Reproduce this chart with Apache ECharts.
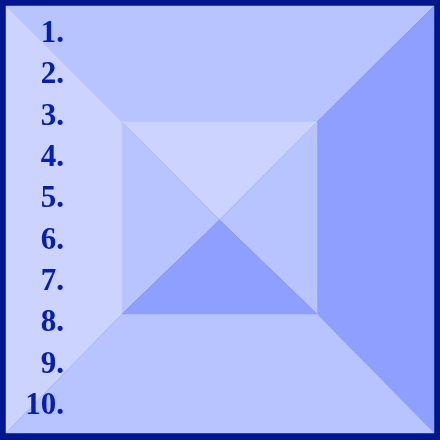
<!DOCTYPE html>
<html><head><meta charset="utf-8">
<script src="https://cdn.jsdelivr.net/npm/echarts@6/dist/echarts.min.js"></script>
<style>html,body{margin:0;padding:0;background:#00168f}#c{width:440px;height:440px}</style>
</head><body><div id="c"></div>
<script>
// 外框与内框（坐标单位＝像素）
const outerBox = [6, 6, 434, 433];
const innerBox = [122, 122, 317, 314];
const faceColors = {
  outerTop: '#b8c4ff', outerLeft: '#ccd3ff', outerRight: '#8f9fff', outerBottom: '#b8c4ff',
  innerTop: '#ccd3ff', innerLeft: '#b8c4ff', innerRight: '#b8c4ff', innerBottom: '#8f9fff',
};
const labels = ['1.', '2.', '3.', '4.', '5.', '6.', '7.', '8.', '9.', '10.'];
const labelY = [34, 75, 117, 158, 199, 241, 282, 323, 365, 406];

function faces() {
  const [x0, y0, x1, y1] = outerBox;
  const [a0, b0, a1, b1] = innerBox;
  const cx = (a0 + a1) / 2, cy = (b0 + b1) / 2 + 2;
  return [
    ['outerTop', [[x0, y0], [x1, y0], [a1, b0], [a0, b0]]],
    ['outerLeft', [[x0, y0], [a0, b0], [a0, b1], [x0, y1]]],
    ['outerRight', [[x1, y0], [x1, y1], [a1, b1], [a1, b0]]],
    ['outerBottom', [[x0, y1], [a0, b1], [a1, b1], [x1, y1]]],
    ['innerTop', [[a0, b0], [a1, b0], [cx, cy]]],
    ['innerLeft', [[a0, b0], [cx, cy], [a0, b1]]],
    ['innerRight', [[a1, b0], [a1, b1], [cx, cy]]],
    ['innerBottom', [[a0, b1], [cx, cy], [a1, b1]]],
  ];
}
const polys = faces();

const chart = echarts.init(document.getElementById('c'));
chart.setOption({
  animation: false,
  backgroundColor: '#00168f',
  grid: { left: 0, right: 0, top: 0, bottom: 0 },
  xAxis: { type: 'value', min: 0, max: 440, show: false },
  yAxis: { type: 'value', min: 0, max: 440, inverse: true, show: false },
  series: [{
    type: 'custom',
    data: polys.map((p, i) => [i]),
    renderItem: (params, api) => {
      const [name, pts] = polys[api.value(0)];
      return {
        type: 'polygon',
        shape: { points: pts.map((p) => api.coord(p)) },
        style: { fill: faceColors[name], stroke: faceColors[name], lineWidth: 0.5 },
      };
    },
  }, {
    type: 'custom',
    data: labels.map((t, i) => [64, labelY[i]]),
    renderItem: (params, api) => {
      const pt = api.coord([api.value(0), api.value(1)]);
      return {
        type: 'text',
        style: {
          x: pt[0], y: pt[1], text: labels[params.dataIndex],
          align: 'right', verticalAlign: 'middle',
          font: '600 31px "Liberation Serif", "DejaVu Serif", serif', fill: '#0520b0',
        },
      };
    },
  }],
});
</script></body></html>
